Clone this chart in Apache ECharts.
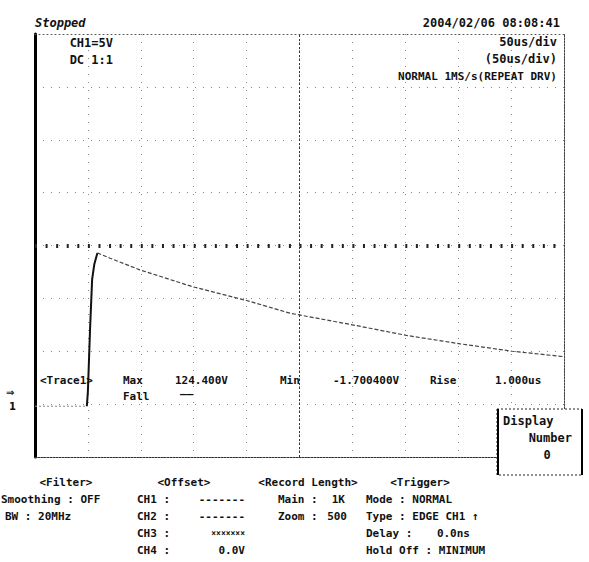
<!DOCTYPE html>
<html>
<head>
<meta charset="utf-8">
<script src="https://cdn.jsdelivr.net/npm/echarts@6/dist/echarts.min.js"></script>
<style>
html,body{margin:0;padding:0;background:#fff;}
#chart{width:589px;height:562px;}
</style>
</head>
<body>
<div id="chart"></div>
<script>
const timeUs = [-250, -201, -200, -198, -196, -194, -191, -179, -151, -101, -50, -9, 50, 101, 152, 201, 249];
const volts  = [-15.2, -15.2, -13.8, -8.0, -3.2, -1.8, -0.7, -1.2, -2.3, -3.9, -5.2, -6.4, -7.5, -8.5, -9.3, -10.0, -10.5];
const riseStart = 1; // index where the rising edge starts
const riseEnd = 6;   // index where the rising edge ends and the decay starts

// Axis settings (divisions)
const xRange = [-250, 250];
const xStep = 50;
const yRange = [-20, 20];
const yStep = 5;

// Screen texts
const statusText = 'Stopped';
const dateText = '2004/02/06 08:08:41';
const chInfo = ['CH1=5V', 'DC 1:1'];
const timebaseInfo = ['50us/div', '(50us/div)', 'NORMAL 1MS/s(REPEAT DRV)'];
const measureRow = ['<Trace1>', 'Max', '124.400V', 'Min', '-1.700400V', 'Rise', '1.000us'];
const measureRow2 = ['Fall', '\u2014\u2014'];
const displayBox = ['Display', 'Number', '0'];
const filterLines = ['<Filter>', 'Smoothing : OFF', 'BW : 20MHz'];
const offsetLines = ['<Offset>', 'CH1 :', 'CH2 :', 'CH3 :', 'CH4 :'];
const offsetValues = ['-------', '-------', '\u00D7\u00D7\u00D7\u00D7\u00D7\u00D7\u00D7', '0.0V'];
const recordLines = ['<Record Length>', 'Main :', 'Zoom :'];
const recordValues = ['1K', '500'];
const triggerLines = ['<Trigger>', 'Mode : NORMAL', 'Type : EDGE CH1 \u2191', 'Delay :', 'Hold Off : MINIMUM'];
const triggerDelay = '0.0ns';

const chart = echarts.init(document.getElementById('chart'), null, {renderer: 'svg'});
const pts = timeUs.map((t, i) => [t, volts[i]]);
const FONT = 'bold 12px "DejaVu Sans Mono"';
const SMALL = 'bold 11px "DejaVu Sans Mono"';

function txt(text, x, y, align, font) {
  return {type: 'text', z: 100, style: {text: text, x: x, y: y, align: align || 'left', verticalAlign: 'middle', font: font || FONT, fill: '#111'}};
}

const g = [];
g.push(txt(statusText, 35, 23, 'left', 'bold italic 12px "DejaVu Sans Mono"'));
g.push(txt(dateText, 560, 23, 'right'));
g.push(txt(chInfo[0], 113, 43, 'right'));
g.push(txt(chInfo[1], 113, 60, 'right'));
timebaseInfo.forEach((s, i) => g.push(txt(s, 557, 42 + i * 17, 'right', i === 2 ? SMALL : FONT)));
// measurement row
const mx = [40, 123, 175, 280, 333, 430, 495];
measureRow.forEach((s, i) => g.push(txt(s, mx[i], 380, 'left', SMALL)));
g.push(txt(measureRow2[0], 123, 396, 'left', SMALL));
g.push(txt(measureRow2[1], 180, 394, 'left', SMALL));
// left markers
g.push(txt('\u21D2', 6, 392, 'left', 'bold 10px "DejaVu Sans"'));
g.push(txt('1', 9, 406, 'left', 'bold 10px "DejaVu Sans"'));
// display box
g.push({type: 'rect', z: 90, shape: {x: 497, y: 409, width: 85, height: 66}, style: {fill: '#fff', stroke: '#222', lineWidth: 1, lineDash: [2, 2]}});
g.push({type: 'line', z: 91, shape: {x1: 498, y1: 409, x2: 498, y2: 475}, style: {stroke: '#000', lineWidth: 2}});
g.push({type: 'line', z: 91, shape: {x1: 582, y1: 409, x2: 582, y2: 475}, style: {stroke: '#000', lineWidth: 2}});
g.push(txt(displayBox[0], 503, 421));
g.push(txt(displayBox[1], 572, 438, 'right'));
g.push(txt(displayBox[2], 547, 455, 'center'));
// bottom panel
g.push(txt(filterLines[0], 66, 482, 'center', SMALL));
g.push(txt(filterLines[1], 1, 499, 'left', SMALL));
g.push(txt(filterLines[2], 5, 516, 'left', SMALL));
g.push(txt(offsetLines[0], 184, 482, 'center', SMALL));
for (let i = 1; i < 5; i++) {
  g.push(txt(offsetLines[i], 137, 482 + i * 17, 'left', SMALL));
  g.push(txt(offsetValues[i - 1], 245, 482 + i * 17, 'right', i === 3 ? 'bold 8px "DejaVu Sans Mono"' : SMALL));
}
g.push(txt(recordLines[0], 308, 482, 'center', SMALL));
g.push(txt(recordLines[1], 278, 499, 'left', SMALL));
g.push(txt(recordLines[2], 278, 516, 'left', SMALL));
g.push(txt(recordValues[0], 345, 499, 'right', SMALL));
g.push(txt(recordValues[1], 347, 516, 'right', SMALL));
g.push(txt(triggerLines[0], 420, 482, 'center', SMALL));
for (let i = 1; i < 5; i++) g.push(txt(triggerLines[i], 366, 482 + i * 17, 'left', SMALL));
g.push(txt(triggerDelay, 470, 533, 'right', SMALL));

const hiddenAxis = {axisTick: {show: false}, axisLabel: {show: false}, splitLine: {show: false}};
const option = {
  animation: false,
  backgroundColor: '#fff',
  grid: {left: 35, top: 34, width: 529, height: 423, show: false},
  xAxis: [
    {
      type: 'value', min: xRange[0], max: xRange[1], interval: xStep, position: 'bottom',
      axisLine: {show: true, onZero: false, lineStyle: {color: '#333', width: 1, type: [2, 1]}},
      axisTick: {show: false}, axisLabel: {show: false},
      splitLine: {show: true, lineStyle: {color: '#888', type: [1, 7], width: 1}}
    },
    Object.assign({
      type: 'value', min: xRange[0], max: xRange[1], interval: xStep, position: 'top',
      axisLine: {show: true, onZero: false, lineStyle: {color: '#555', width: 1, type: [1, 3]}}
    }, hiddenAxis)
  ],
  yAxis: [
    {
      type: 'value', min: yRange[0], max: yRange[1], interval: yStep, position: 'left',
      axisLine: {show: true, onZero: false, lineStyle: {color: '#000', width: 3}},
      axisTick: {show: false}, axisLabel: {show: false},
      splitLine: {show: true, lineStyle: {color: '#888', type: [1, 7], width: 1}}
    },
    Object.assign({
      type: 'value', min: yRange[0], max: yRange[1], interval: yStep, position: 'right',
      axisLine: {show: true, onZero: false, lineStyle: {color: '#444', width: 1, type: [2, 1]}}
    }, hiddenAxis)
  ],
  graphic: g,
  series: [
    {
      type: 'line', data: pts.slice(0, riseStart + 1), symbol: 'none', z: 4,
      lineStyle: {color: '#888', width: 1, type: [2, 2]},
      markLine: {
        silent: true, symbol: 'none', label: {show: false},
        data: [
          {yAxis: 0, lineStyle: {color: '#222', width: 4, type: [2, 8.58]}},
          {xAxis: 0, lineStyle: {color: '#333', width: 1, type: [2, 2]}}
        ]
      }
    },
    {
      type: 'line', data: pts.slice(riseStart, riseEnd + 1), symbol: 'none', z: 5,
      lineStyle: {color: '#111', width: 2}
    },
    {
      type: 'line', data: pts.slice(riseEnd), symbol: 'none', z: 5,
      lineStyle: {color: '#444', width: 1.2, type: [4, 2]}
    }
  ]
};
chart.setOption(option);
</script>
</body>
</html>
